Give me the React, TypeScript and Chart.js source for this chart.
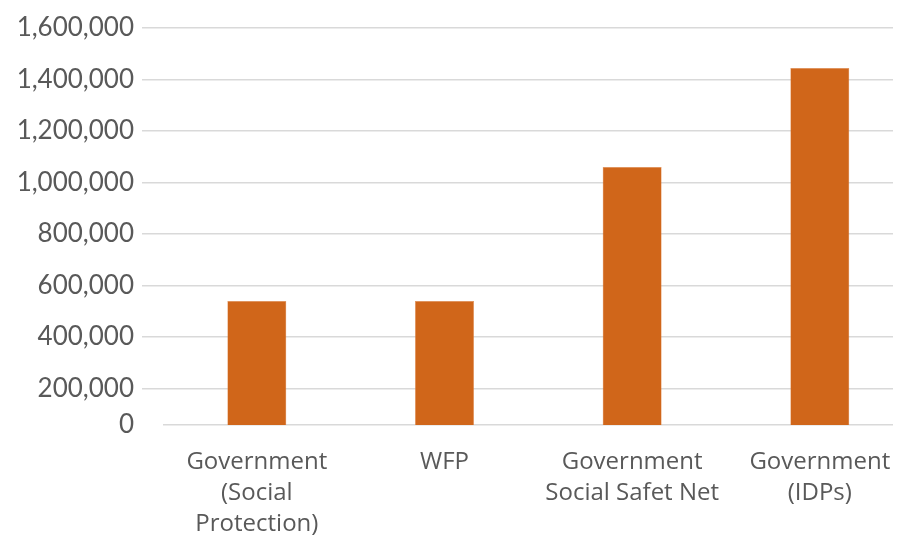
import React, { useEffect, useRef } from "react";
import { Chart, registerables } from "chart.js";

Chart.register(...registerables);

// ---- data ----
const categories: string[][] = [
  ["Government", "(Social", "Protection)"],
  ["WFP"],
  ["Government", "Social Safet Net"],
  ["Government", "(IDPs)"],
];
const beneficiaries: number[] = [540000, 540000, 1060000, 1445000];
const yTickValues: number[] = [200000, 400000, 600000, 800000, 1000000, 1200000, 1400000, 1600000];
// the reference compresses the space between 0 and 200,000 (axis break)
const axisBreakMin = 58000;
const yMax = 1600000;

const BAR = "#D0661A";
const GRID = "#d9d9d9";
const TEXT = "#595959";

export default function App() {
  const ref = useRef<HTMLCanvasElement | null>(null);

  useEffect(() => {
    if (!ref.current) return;
    const chart = new Chart(ref.current, {
      type: "bar",
      data: {
        datasets: [
          {
            label: "Beneficiaries",
            data: beneficiaries.map((v, i) => ({ x: i, y: v })),
            backgroundColor: BAR,
            borderColor: "#e08a4e",
            borderWidth: 0.5,
            categoryPercentage: 1,
            barPercentage: 0.314,
          },
        ],
      },
      options: {
        animation: false,
        responsive: true,
        maintainAspectRatio: false,
        layout: { padding: { top: 28, right: 10, left: 0, bottom: 0 } },
        plugins: { legend: { display: false }, tooltip: { enabled: false } },
        scales: {
          x: {
            type: "linear",
            offset: false,
            min: -0.5,
            max: 3.39,
            grid: { display: false, drawTicks: false },
            border: { display: false },
            afterBuildTicks: (axis: any) => {
              axis.ticks = categories.map((_, i) => ({ value: i }));
            },
            afterFit: (axis: any) => {
              axis.height = 110;
              axis.paddingLeft = 0;
              axis.paddingRight = 0;
            },
            ticks: {
              autoSkip: false,
              maxRotation: 0,
              minRotation: 0,
              padding: 22,
              color: TEXT,
              font: { family: "Open Sans", size: 24, lineHeight: 1.29 },
              callback: (value: any) => categories[Number(value)] ?? "",
            },
          },
          y: {
            type: "linear",
            min: axisBreakMin,
            max: yMax,
            border: { display: false },
            grid: {
              color: GRID,
              lineWidth: 1.5,
              drawTicks: true,
              tickLength: 21,
              tickColor: (ctx: any) => (ctx.index === 0 ? "rgba(0,0,0,0)" : GRID),
            },
            afterBuildTicks: (axis: any) => {
              axis.ticks = [axisBreakMin, ...yTickValues].map((v) => ({ value: v }));
            },
            afterFit: (axis: any) => {
              axis.width = 163;
              axis.paddingTop = 0;
              axis.paddingBottom = 0;
            },
            ticks: {
              padding: 8,
              color: TEXT,
              font: { family: "Lato", size: 26 },
              callback: (value: any) =>
                Number(value) === axisBreakMin ? "0" : Number(value).toLocaleString("en-US"),
            },
          },
        },
      },
    });
    return () => chart.destroy();
  }, []);

  return (
    <div style={{ position: "fixed", left: 0, top: 0, width: 903, height: 535, background: "#fff" }}>
      <canvas ref={ref} />
    </div>
  );
}
